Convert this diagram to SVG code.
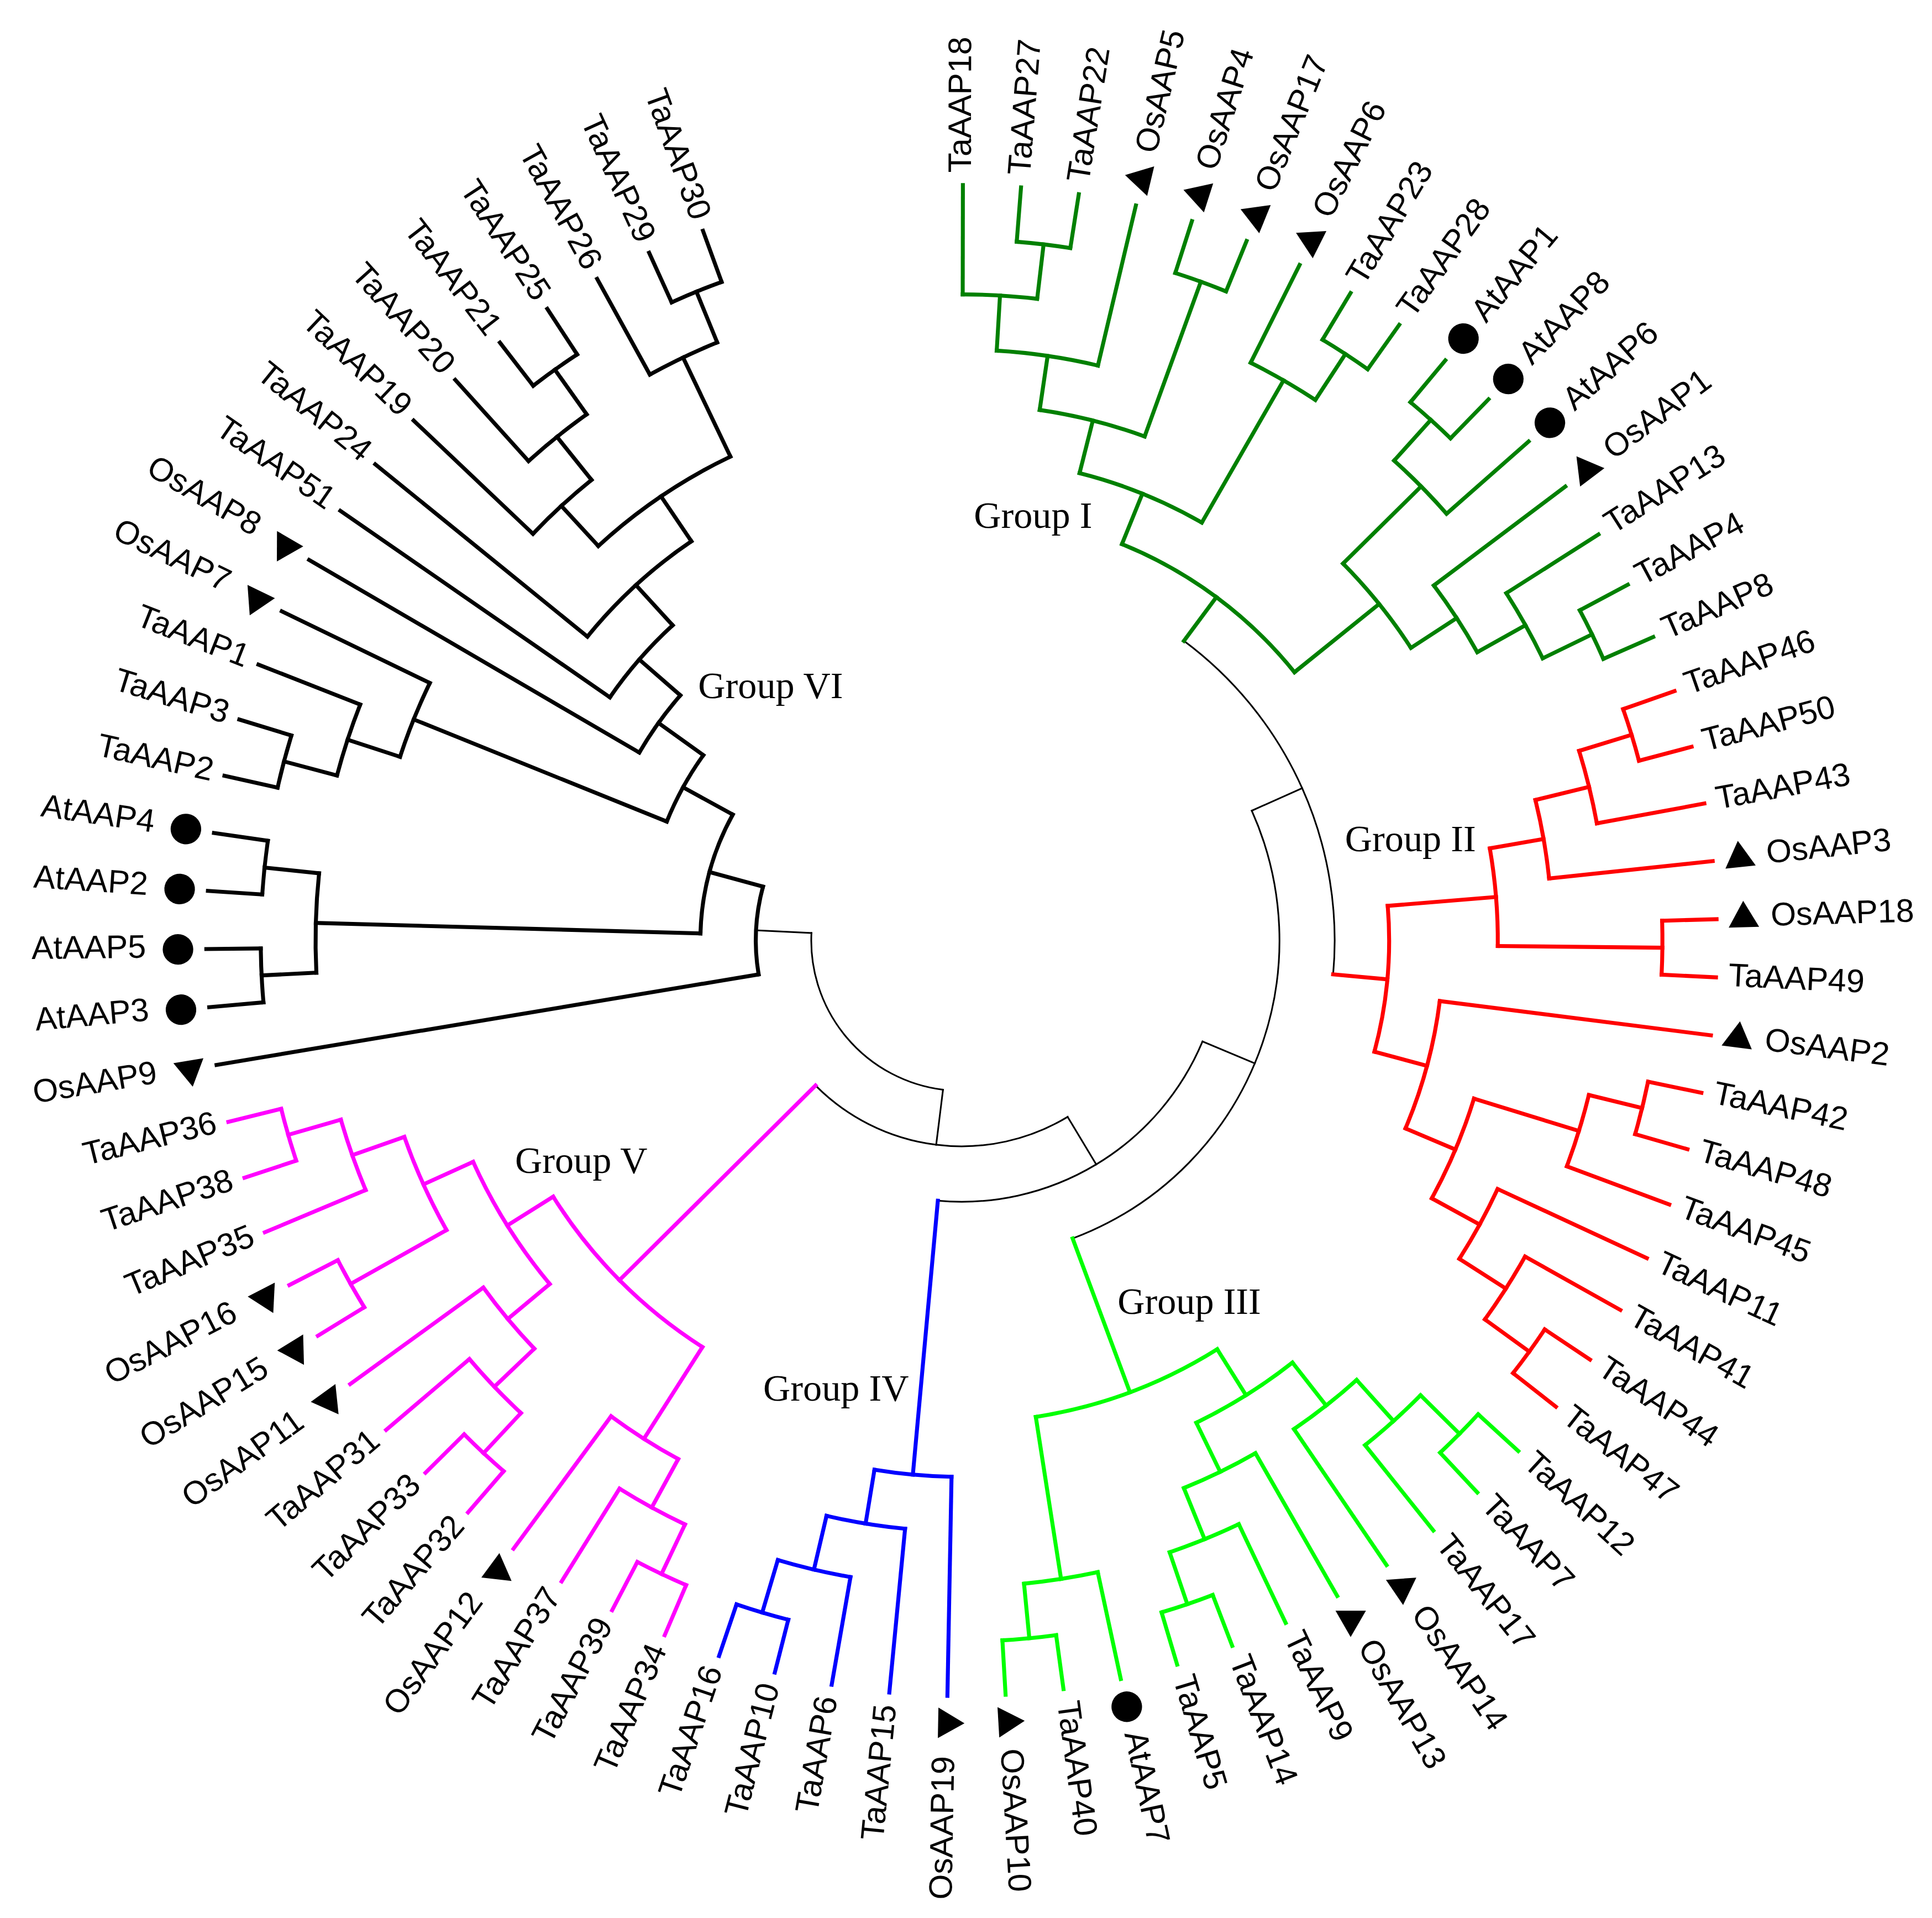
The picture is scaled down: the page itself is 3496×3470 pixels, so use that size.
<svg xmlns="http://www.w3.org/2000/svg" xmlns:xlink="http://www.w3.org/1999/xlink" width="3496" height="3470" viewBox="0 0 3496 3470">
<style>
.t{font-family:"Liberation Sans",Arial,Helvetica,sans-serif;font-size:26.5px;fill:#000}
.L{text-anchor:end}
.g{font-family:"Liberation Serif","Times New Roman",serif;font-size:30.6px;fill:#000}
#connectors line,#connectors circle{fill:none;stroke-linecap:square}
.thin{stroke:#000;stroke-width:1.35}
.k{stroke:#000;stroke-width:3.2}
.c1{stroke:#008000;stroke-width:3.2}
.c2{stroke:#ff0000;stroke-width:3.2}
.c3{stroke:#00ff00;stroke-width:3.2}
.c4{stroke:#0000ff;stroke-width:3.2}
.c5{stroke:#ff00ff;stroke-width:3.2}
</style>
<defs>
<polygon id="tri" points="0,-14.26 12.35,7.13 -12.35,7.13" fill="#000"/>
<circle id="dot" r="12.4" fill="#000"/>
</defs>
<rect width="3496" height="3470" fill="#fff"/>
<g transform="translate(1740,1701.6) scale(2.2296)">
<g id="connectors">
<g class="thin">
<circle r="122" transform="rotate(97.092)" stroke-dasharray="182.62 5000"/>
<circle r="167" transform="rotate(58.969)" stroke-dasharray="222.23 5000"/>
<circle r="212" transform="rotate(22.726)" stroke-dasharray="268.2 5000"/>
<circle r="258" transform="rotate(-24.104)" stroke-dasharray="421.75 5000"/>
<circle r="302.8" transform="rotate(-53.416)" stroke-dasharray="309.82 5000"/>
<line transform="rotate(97.092)" x1="122" x2="167"/>
<line transform="rotate(182.859)" x1="122" x2="167"/>
<line transform="rotate(58.969)" x1="167" x2="212"/>
<line transform="rotate(22.726)" x1="212" x2="258"/>
<line transform="rotate(-24.104)" x1="258" x2="302.8"/>
</g>
<g class="c1">
<line transform="rotate(-53.416)" x1="302.8" x2="347"/>
<line transform="rotate(-67.968)" x1="347" x2="391.2"/>
<line transform="rotate(-38.863)" x1="347" x2="435.2"/>
<line transform="rotate(-75.83)" x1="391.2" x2="435.2"/>
<line transform="rotate(-60.106)" x1="391.2" x2="524.3"/>
<line transform="rotate(-81.624)" x1="435.2" x2="479.5"/>
<line transform="rotate(-70.037)" x1="435.2" x2="568.8"/>
<line transform="rotate(-86.59)" x1="479.5" x2="524.3"/>
<line transform="rotate(-76.658)" x1="479.5" x2="613"/>
<line transform="rotate(-89.9)" x1="524.3" x2="613"/>
<line transform="rotate(-83.279)" x1="524.3" x2="568.8"/>
<line transform="rotate(-85.486)" x1="568.8" x2="613"/>
<line transform="rotate(-81.072)" x1="568.8" x2="613"/>
<line transform="rotate(-72.244)" x1="568.8" x2="613"/>
<line transform="rotate(-67.83)" x1="568.8" x2="613"/>
<line transform="rotate(-63.416)" x1="524.3" x2="613"/>
<line transform="rotate(-56.795)" x1="524.3" x2="568.8"/>
<line transform="rotate(-59.002)" x1="568.8" x2="613"/>
<line transform="rotate(-54.588)" x1="568.8" x2="613"/>
<line transform="rotate(-44.656)" x1="435.2" x2="524.3"/>
<line transform="rotate(-33.07)" x1="435.2" x2="479.5"/>
<line transform="rotate(-47.967)" x1="524.3" x2="568.8"/>
<line transform="rotate(-41.346)" x1="524.3" x2="613"/>
<line transform="rotate(-50.174)" x1="568.8" x2="613"/>
<line transform="rotate(-45.76)" x1="568.8" x2="613"/>
<line transform="rotate(-36.932)" x1="479.5" x2="613"/>
<line transform="rotate(-29.208)" x1="479.5" x2="524.3"/>
<line transform="rotate(-32.518)" x1="524.3" x2="613"/>
<line transform="rotate(-25.897)" x1="524.3" x2="568.8"/>
<line transform="rotate(-28.104)" x1="568.8" x2="613"/>
<line transform="rotate(-23.69)" x1="568.8" x2="613"/>
<circle r="347" transform="rotate(-67.968)" stroke-dasharray="176.26 5000"/>
<circle r="391.2" transform="rotate(-75.83)" stroke-dasharray="107.36 5000"/>
<circle r="435.2" transform="rotate(-81.624)" stroke-dasharray="88.01 5000"/>
<circle r="479.5" transform="rotate(-86.59)" stroke-dasharray="83.12 5000"/>
<circle r="524.3" transform="rotate(-89.9)" stroke-dasharray="60.59 5000"/>
<circle r="568.8" transform="rotate(-85.486)" stroke-dasharray="43.82 5000"/>
<circle r="568.8" transform="rotate(-72.244)" stroke-dasharray="43.82 5000"/>
<circle r="524.3" transform="rotate(-63.416)" stroke-dasharray="60.59 5000"/>
<circle r="568.8" transform="rotate(-59.002)" stroke-dasharray="43.82 5000"/>
<circle r="435.2" transform="rotate(-44.656)" stroke-dasharray="88.0 5000"/>
<circle r="524.3" transform="rotate(-47.967)" stroke-dasharray="60.59 5000"/>
<circle r="568.8" transform="rotate(-50.174)" stroke-dasharray="43.82 5000"/>
<circle r="479.5" transform="rotate(-36.932)" stroke-dasharray="64.64 5000"/>
<circle r="524.3" transform="rotate(-32.518)" stroke-dasharray="60.59 5000"/>
<circle r="568.8" transform="rotate(-28.104)" stroke-dasharray="43.82 5000"/>
</g>
<g class="c2">
<line transform="rotate(5.208)" x1="302.8" x2="347"/>
<line transform="rotate(-4.655)" x1="347" x2="435.2"/>
<line transform="rotate(15.071)" x1="347" x2="391.2"/>
<line transform="rotate(-9.897)" x1="435.2" x2="479.5"/>
<line transform="rotate(0.587)" x1="435.2" x2="568.8"/>
<line transform="rotate(-13.759)" x1="479.5" x2="524.3"/>
<line transform="rotate(-6.034)" x1="479.5" x2="613"/>
<line transform="rotate(-17.069)" x1="524.3" x2="568.8"/>
<line transform="rotate(-10.448)" x1="524.3" x2="613"/>
<line transform="rotate(-19.276)" x1="568.8" x2="613"/>
<line transform="rotate(-14.862)" x1="568.8" x2="613"/>
<line transform="rotate(-1.62)" x1="568.8" x2="613"/>
<line transform="rotate(2.794)" x1="568.8" x2="613"/>
<line transform="rotate(7.208)" x1="391.2" x2="613"/>
<line transform="rotate(22.934)" x1="391.2" x2="435.2"/>
<line transform="rotate(17.14)" x1="435.2" x2="524.3"/>
<line transform="rotate(28.727)" x1="435.2" x2="479.5"/>
<line transform="rotate(13.829)" x1="524.3" x2="568.8"/>
<line transform="rotate(20.45)" x1="524.3" x2="613"/>
<line transform="rotate(11.622)" x1="568.8" x2="613"/>
<line transform="rotate(16.036)" x1="568.8" x2="613"/>
<line transform="rotate(24.864)" x1="479.5" x2="613"/>
<line transform="rotate(32.589)" x1="479.5" x2="524.3"/>
<line transform="rotate(29.278)" x1="524.3" x2="613"/>
<line transform="rotate(35.899)" x1="524.3" x2="568.8"/>
<line transform="rotate(33.692)" x1="568.8" x2="613"/>
<line transform="rotate(38.106)" x1="568.8" x2="613"/>
<circle r="347" transform="rotate(-4.655)" stroke-dasharray="119.47 5000"/>
<circle r="435.2" transform="rotate(-9.897)" stroke-dasharray="79.63 5000"/>
<circle r="479.5" transform="rotate(-13.759)" stroke-dasharray="64.65 5000"/>
<circle r="524.3" transform="rotate(-17.069)" stroke-dasharray="60.59 5000"/>
<circle r="568.8" transform="rotate(-19.276)" stroke-dasharray="43.82 5000"/>
<circle r="568.8" transform="rotate(-1.62)" stroke-dasharray="43.82 5000"/>
<circle r="391.2" transform="rotate(7.208)" stroke-dasharray="107.37 5000"/>
<circle r="435.2" transform="rotate(17.14)" stroke-dasharray="88.01 5000"/>
<circle r="524.3" transform="rotate(13.829)" stroke-dasharray="60.59 5000"/>
<circle r="568.8" transform="rotate(11.622)" stroke-dasharray="43.82 5000"/>
<circle r="479.5" transform="rotate(24.864)" stroke-dasharray="64.65 5000"/>
<circle r="524.3" transform="rotate(29.278)" stroke-dasharray="60.59 5000"/>
<circle r="568.8" transform="rotate(33.692)" stroke-dasharray="43.82 5000"/>
</g>
<g class="c3">
<line transform="rotate(69.556)" x1="258" x2="391.2"/>
<line transform="rotate(57.969)" x1="391.2" x2="435.2"/>
<line transform="rotate(81.142)" x1="391.2" x2="524.3"/>
<line transform="rotate(51.9)" x1="435.2" x2="479.5"/>
<line transform="rotate(64.038)" x1="435.2" x2="479.5"/>
<line transform="rotate(48.038)" x1="479.5" x2="524.3"/>
<line transform="rotate(55.762)" x1="479.5" x2="613"/>
<line transform="rotate(44.727)" x1="524.3" x2="568.8"/>
<line transform="rotate(51.348)" x1="524.3" x2="613"/>
<line transform="rotate(42.52)" x1="568.8" x2="613"/>
<line transform="rotate(46.934)" x1="568.8" x2="613"/>
<line transform="rotate(60.176)" x1="479.5" x2="613"/>
<line transform="rotate(67.9)" x1="479.5" x2="524.3"/>
<line transform="rotate(64.59)" x1="524.3" x2="613"/>
<line transform="rotate(71.211)" x1="524.3" x2="568.8"/>
<line transform="rotate(69.004)" x1="568.8" x2="613"/>
<line transform="rotate(73.418)" x1="568.8" x2="613"/>
<line transform="rotate(77.832)" x1="524.3" x2="613"/>
<line transform="rotate(84.453)" x1="524.3" x2="568.8"/>
<line transform="rotate(82.246)" x1="568.8" x2="613"/>
<line transform="rotate(86.66)" x1="568.8" x2="613"/>
<circle r="391.2" transform="rotate(57.969)" stroke-dasharray="158.22 5000"/>
<circle r="435.2" transform="rotate(51.9)" stroke-dasharray="92.2 5000"/>
<circle r="479.5" transform="rotate(48.038)" stroke-dasharray="64.64 5000"/>
<circle r="524.3" transform="rotate(44.727)" stroke-dasharray="60.59 5000"/>
<circle r="568.8" transform="rotate(42.52)" stroke-dasharray="43.82 5000"/>
<circle r="479.5" transform="rotate(60.176)" stroke-dasharray="64.64 5000"/>
<circle r="524.3" transform="rotate(64.59)" stroke-dasharray="60.59 5000"/>
<circle r="568.8" transform="rotate(69.004)" stroke-dasharray="43.82 5000"/>
<circle r="524.3" transform="rotate(77.832)" stroke-dasharray="60.59 5000"/>
<circle r="568.8" transform="rotate(82.246)" stroke-dasharray="43.82 5000"/>
</g>
<g class="c4">
<line transform="rotate(95.212)" x1="212" x2="435.2"/>
<line transform="rotate(91.074)" x1="435.2" x2="613"/>
<line transform="rotate(99.35)" x1="435.2" x2="479.5"/>
<line transform="rotate(95.488)" x1="479.5" x2="613"/>
<line transform="rotate(103.212)" x1="479.5" x2="524.3"/>
<line transform="rotate(99.902)" x1="524.3" x2="613"/>
<line transform="rotate(106.523)" x1="524.3" x2="568.8"/>
<line transform="rotate(104.316)" x1="568.8" x2="613"/>
<line transform="rotate(108.73)" x1="568.8" x2="613"/>
<circle r="435.2" transform="rotate(91.074)" stroke-dasharray="62.86 5000"/>
<circle r="479.5" transform="rotate(95.488)" stroke-dasharray="64.64 5000"/>
<circle r="524.3" transform="rotate(99.902)" stroke-dasharray="60.59 5000"/>
<circle r="568.8" transform="rotate(104.316)" stroke-dasharray="43.82 5000"/>
</g>
<g class="c5">
<line transform="rotate(135.215)" x1="167" x2="391.2"/>
<line transform="rotate(122.524)" x1="391.2" x2="479.5"/>
<line transform="rotate(147.905)" x1="391.2" x2="435.2"/>
<line transform="rotate(118.662)" x1="479.5" x2="524.3"/>
<line transform="rotate(126.386)" x1="479.5" x2="613"/>
<line transform="rotate(115.351)" x1="524.3" x2="568.8"/>
<line transform="rotate(121.972)" x1="524.3" x2="613"/>
<line transform="rotate(113.144)" x1="568.8" x2="613"/>
<line transform="rotate(117.558)" x1="568.8" x2="613"/>
<line transform="rotate(140.18)" x1="435.2" x2="479.5"/>
<line transform="rotate(155.629)" x1="435.2" x2="479.5"/>
<line transform="rotate(136.318)" x1="479.5" x2="524.3"/>
<line transform="rotate(144.042)" x1="479.5" x2="613"/>
<line transform="rotate(133.007)" x1="524.3" x2="568.8"/>
<line transform="rotate(139.628)" x1="524.3" x2="613"/>
<line transform="rotate(130.8)" x1="568.8" x2="613"/>
<line transform="rotate(135.214)" x1="568.8" x2="613"/>
<line transform="rotate(150.663)" x1="479.5" x2="568.8"/>
<line transform="rotate(160.595)" x1="479.5" x2="524.3"/>
<line transform="rotate(148.456)" x1="568.8" x2="613"/>
<line transform="rotate(152.87)" x1="568.8" x2="613"/>
<line transform="rotate(157.284)" x1="524.3" x2="613"/>
<line transform="rotate(163.905)" x1="524.3" x2="568.8"/>
<line transform="rotate(161.698)" x1="568.8" x2="613"/>
<line transform="rotate(166.112)" x1="568.8" x2="613"/>
<circle r="391.2" transform="rotate(122.524)" stroke-dasharray="173.29 5000"/>
<circle r="479.5" transform="rotate(118.662)" stroke-dasharray="64.64 5000"/>
<circle r="524.3" transform="rotate(115.351)" stroke-dasharray="60.59 5000"/>
<circle r="568.8" transform="rotate(113.144)" stroke-dasharray="43.82 5000"/>
<circle r="435.2" transform="rotate(140.18)" stroke-dasharray="117.35 5000"/>
<circle r="479.5" transform="rotate(136.318)" stroke-dasharray="64.64 5000"/>
<circle r="524.3" transform="rotate(133.007)" stroke-dasharray="60.59 5000"/>
<circle r="568.8" transform="rotate(130.8)" stroke-dasharray="43.82 5000"/>
<circle r="479.5" transform="rotate(150.663)" stroke-dasharray="83.12 5000"/>
<circle r="568.8" transform="rotate(148.456)" stroke-dasharray="43.82 5000"/>
<circle r="524.3" transform="rotate(157.284)" stroke-dasharray="60.59 5000"/>
<circle r="568.8" transform="rotate(161.698)" stroke-dasharray="43.82 5000"/>
</g>
<g class="k">
<line transform="rotate(170.526)" x1="167" x2="613"/>
<line transform="rotate(195.192)" x1="167" x2="212"/>
<line transform="rotate(181.561)" x1="212" x2="524.3"/>
<line transform="rotate(208.822)" x1="212" x2="258"/>
<line transform="rotate(177.147)" x1="524.3" x2="568.8"/>
<line transform="rotate(185.975)" x1="524.3" x2="568.8"/>
<line transform="rotate(174.94)" x1="568.8" x2="613"/>
<line transform="rotate(179.354)" x1="568.8" x2="613"/>
<line transform="rotate(183.768)" x1="568.8" x2="613"/>
<line transform="rotate(188.182)" x1="568.8" x2="613"/>
<line transform="rotate(201.976)" x1="258" x2="479.5"/>
<line transform="rotate(215.667)" x1="258" x2="302.8"/>
<line transform="rotate(198.114)" x1="479.5" x2="524.3"/>
<line transform="rotate(205.838)" x1="479.5" x2="613"/>
<line transform="rotate(194.803)" x1="524.3" x2="568.8"/>
<line transform="rotate(201.424)" x1="524.3" x2="613"/>
<line transform="rotate(192.596)" x1="568.8" x2="613"/>
<line transform="rotate(197.01)" x1="568.8" x2="613"/>
<line transform="rotate(210.252)" x1="302.8" x2="613"/>
<line transform="rotate(221.081)" x1="302.8" x2="347"/>
<line transform="rotate(214.666)" x1="347" x2="613"/>
<line transform="rotate(227.495)" x1="347" x2="391.2"/>
<line transform="rotate(219.08)" x1="391.2" x2="613"/>
<line transform="rotate(235.909)" x1="391.2" x2="435.2"/>
<line transform="rotate(227.357)" x1="435.2" x2="479.5"/>
<line transform="rotate(244.461)" x1="435.2" x2="524.3"/>
<line transform="rotate(223.494)" x1="479.5" x2="613"/>
<line transform="rotate(231.219)" x1="479.5" x2="524.3"/>
<line transform="rotate(227.908)" x1="524.3" x2="613"/>
<line transform="rotate(234.529)" x1="524.3" x2="568.8"/>
<line transform="rotate(232.322)" x1="568.8" x2="613"/>
<line transform="rotate(236.736)" x1="568.8" x2="613"/>
<line transform="rotate(241.15)" x1="524.3" x2="613"/>
<line transform="rotate(247.771)" x1="524.3" x2="568.8"/>
<line transform="rotate(245.564)" x1="568.8" x2="613"/>
<line transform="rotate(249.978)" x1="568.8" x2="613"/>
<circle r="167" transform="rotate(170.526)" stroke-dasharray="71.89 5000"/>
<circle r="212" transform="rotate(181.561)" stroke-dasharray="100.87 5000"/>
<circle r="524.3" transform="rotate(177.147)" stroke-dasharray="80.78 5000"/>
<circle r="568.8" transform="rotate(174.94)" stroke-dasharray="43.82 5000"/>
<circle r="568.8" transform="rotate(183.768)" stroke-dasharray="43.82 5000"/>
<circle r="258" transform="rotate(201.976)" stroke-dasharray="61.65 5000"/>
<circle r="479.5" transform="rotate(198.114)" stroke-dasharray="64.64 5000"/>
<circle r="524.3" transform="rotate(194.803)" stroke-dasharray="60.59 5000"/>
<circle r="568.8" transform="rotate(192.596)" stroke-dasharray="43.82 5000"/>
<circle r="302.8" transform="rotate(210.252)" stroke-dasharray="57.23 5000"/>
<circle r="347" transform="rotate(214.666)" stroke-dasharray="77.70 5000"/>
<circle r="391.2" transform="rotate(219.08)" stroke-dasharray="114.90 5000"/>
<circle r="435.2" transform="rotate(227.357)" stroke-dasharray="129.92 5000"/>
<circle r="479.5" transform="rotate(223.494)" stroke-dasharray="64.65 5000"/>
<circle r="524.3" transform="rotate(227.908)" stroke-dasharray="60.59 5000"/>
<circle r="568.8" transform="rotate(232.322)" stroke-dasharray="43.82 5000"/>
<circle r="524.3" transform="rotate(241.15)" stroke-dasharray="60.59 5000"/>
<circle r="568.8" transform="rotate(245.564)" stroke-dasharray="43.82 5000"/>
</g>
</g>
<g id="leaves" class="t">
<g id="leaf-TaAAP18" transform="rotate(-89.9)"><text x="623" y="6.5">TaAAP18</text></g>
<g id="leaf-TaAAP27" transform="rotate(-85.486)"><text x="623" y="6.5">TaAAP27</text></g>
<g id="leaf-TaAAP22" transform="rotate(-81.072)"><text x="623" y="6.5">TaAAP22</text></g>
<g id="leaf-OsAAP5" transform="rotate(-76.658)"><use xlink:href="#tri" x="635"/><text x="657" y="6.5">OsAAP5</text></g>
<g id="leaf-OsAAP4" transform="rotate(-72.244)"><use xlink:href="#tri" x="635"/><text x="657" y="6.5">OsAAP4</text></g>
<g id="leaf-OsAAP17" transform="rotate(-67.83)"><use xlink:href="#tri" x="635"/><text x="657" y="6.5">OsAAP17</text></g>
<g id="leaf-OsAAP6" transform="rotate(-63.416)"><use xlink:href="#tri" x="635"/><text x="657" y="6.5">OsAAP6</text></g>
<g id="leaf-TaAAP23" transform="rotate(-59.002)"><text x="623" y="6.5">TaAAP23</text></g>
<g id="leaf-TaAAP28" transform="rotate(-54.588)"><text x="623" y="6.5">TaAAP28</text></g>
<g id="leaf-AtAAP1" transform="rotate(-50.174)"><use xlink:href="#dot" x="636"/><text x="657" y="6.5">AtAAP1</text></g>
<g id="leaf-AtAAP8" transform="rotate(-45.76)"><use xlink:href="#dot" x="636"/><text x="657" y="6.5">AtAAP8</text></g>
<g id="leaf-AtAAP6" transform="rotate(-41.346)"><use xlink:href="#dot" x="636"/><text x="657" y="6.5">AtAAP6</text></g>
<g id="leaf-OsAAP1" transform="rotate(-36.932)"><use xlink:href="#tri" x="635"/><text x="657" y="6.5">OsAAP1</text></g>
<g id="leaf-TaAAP13" transform="rotate(-32.518)"><text x="623" y="6.5">TaAAP13</text></g>
<g id="leaf-TaAAP4" transform="rotate(-28.104)"><text x="623" y="6.5">TaAAP4</text></g>
<g id="leaf-TaAAP8" transform="rotate(-23.69)"><text x="623" y="6.5">TaAAP8</text></g>
<g id="leaf-TaAAP46" transform="rotate(-19.276)"><text x="623" y="6.5">TaAAP46</text></g>
<g id="leaf-TaAAP50" transform="rotate(-14.862)"><text x="623" y="6.5">TaAAP50</text></g>
<g id="leaf-TaAAP43" transform="rotate(-10.448)"><text x="623" y="6.5">TaAAP43</text></g>
<g id="leaf-OsAAP3" transform="rotate(-6.034)"><use xlink:href="#tri" x="635"/><text x="657" y="6.5">OsAAP3</text></g>
<g id="leaf-OsAAP18" transform="rotate(-1.62)"><use xlink:href="#tri" x="635"/><text x="657" y="6.5">OsAAP18</text></g>
<g id="leaf-TaAAP49" transform="rotate(2.794)"><text x="623" y="6.5">TaAAP49</text></g>
<g id="leaf-OsAAP2" transform="rotate(7.208)"><use xlink:href="#tri" x="635"/><text x="657" y="6.5">OsAAP2</text></g>
<g id="leaf-TaAAP42" transform="rotate(11.622)"><text x="623" y="6.5">TaAAP42</text></g>
<g id="leaf-TaAAP48" transform="rotate(16.036)"><text x="623" y="6.5">TaAAP48</text></g>
<g id="leaf-TaAAP45" transform="rotate(20.45)"><text x="623" y="6.5">TaAAP45</text></g>
<g id="leaf-TaAAP11" transform="rotate(24.864)"><text x="623" y="6.5">TaAAP11</text></g>
<g id="leaf-TaAAP41" transform="rotate(29.278)"><text x="623" y="6.5">TaAAP41</text></g>
<g id="leaf-TaAAP44" transform="rotate(33.692)"><text x="623" y="6.5">TaAAP44</text></g>
<g id="leaf-TaAAP47" transform="rotate(38.106)"><text x="623" y="6.5">TaAAP47</text></g>
<g id="leaf-TaAAP12" transform="rotate(42.52)"><text x="623" y="6.5">TaAAP12</text></g>
<g id="leaf-TaAAP7" transform="rotate(46.934)"><text x="623" y="6.5">TaAAP7</text></g>
<g id="leaf-TaAAP17" transform="rotate(51.348)"><text x="623" y="6.5">TaAAP17</text></g>
<g id="leaf-OsAAP14" transform="rotate(55.762)"><use xlink:href="#tri" x="635"/><text x="657" y="6.5">OsAAP14</text></g>
<g id="leaf-OsAAP13" transform="rotate(60.176)"><use xlink:href="#tri" x="635"/><text x="657" y="6.5">OsAAP13</text></g>
<g id="leaf-TaAAP9" transform="rotate(64.59)"><text x="623" y="6.5">TaAAP9</text></g>
<g id="leaf-TaAAP14" transform="rotate(69.004)"><text x="623" y="6.5">TaAAP14</text></g>
<g id="leaf-TaAAP5" transform="rotate(73.418)"><text x="623" y="6.5">TaAAP5</text></g>
<g id="leaf-AtAAP7" transform="rotate(77.832)"><use xlink:href="#dot" x="636"/><text x="657" y="6.5">AtAAP7</text></g>
<g id="leaf-TaAAP40" transform="rotate(82.246)"><text x="623" y="6.5">TaAAP40</text></g>
<g id="leaf-OsAAP10" transform="rotate(86.66)"><use xlink:href="#tri" x="635"/><text x="657" y="6.5">OsAAP10</text></g>
<g id="leaf-OsAAP19" transform="rotate(91.074)"><use xlink:href="#tri" x="635"/><text class="L" x="662" y="6.5" transform="rotate(180 662 0)">OsAAP19</text></g>
<g id="leaf-TaAAP15" transform="rotate(95.488)"><text class="L" x="623" y="6.5" transform="rotate(180 623 0)">TaAAP15</text></g>
<g id="leaf-TaAAP6" transform="rotate(99.902)"><text class="L" x="623" y="6.5" transform="rotate(180 623 0)">TaAAP6</text></g>
<g id="leaf-TaAAP10" transform="rotate(104.316)"><text class="L" x="623" y="6.5" transform="rotate(180 623 0)">TaAAP10</text></g>
<g id="leaf-TaAAP16" transform="rotate(108.73)"><text class="L" x="623" y="6.5" transform="rotate(180 623 0)">TaAAP16</text></g>
<g id="leaf-TaAAP34" transform="rotate(113.144)"><text class="L" x="623" y="6.5" transform="rotate(180 623 0)">TaAAP34</text></g>
<g id="leaf-TaAAP39" transform="rotate(117.558)"><text class="L" x="623" y="6.5" transform="rotate(180 623 0)">TaAAP39</text></g>
<g id="leaf-TaAAP37" transform="rotate(121.972)"><text class="L" x="623" y="6.5" transform="rotate(180 623 0)">TaAAP37</text></g>
<g id="leaf-OsAAP12" transform="rotate(126.386)"><use xlink:href="#tri" x="635"/><text class="L" x="662" y="6.5" transform="rotate(180 662 0)">OsAAP12</text></g>
<g id="leaf-TaAAP32" transform="rotate(130.8)"><text class="L" x="623" y="6.5" transform="rotate(180 623 0)">TaAAP32</text></g>
<g id="leaf-TaAAP33" transform="rotate(135.214)"><text class="L" x="623" y="6.5" transform="rotate(180 623 0)">TaAAP33</text></g>
<g id="leaf-TaAAP31" transform="rotate(139.628)"><text class="L" x="623" y="6.5" transform="rotate(180 623 0)">TaAAP31</text></g>
<g id="leaf-OsAAP11" transform="rotate(144.042)"><use xlink:href="#tri" x="635"/><text class="L" x="662" y="6.5" transform="rotate(180 662 0)">OsAAP11</text></g>
<g id="leaf-OsAAP15" transform="rotate(148.456)"><use xlink:href="#tri" x="635"/><text class="L" x="662" y="6.5" transform="rotate(180 662 0)">OsAAP15</text></g>
<g id="leaf-OsAAP16" transform="rotate(152.87)"><use xlink:href="#tri" x="635"/><text class="L" x="662" y="6.5" transform="rotate(180 662 0)">OsAAP16</text></g>
<g id="leaf-TaAAP35" transform="rotate(157.284)"><text class="L" x="623" y="6.5" transform="rotate(180 623 0)">TaAAP35</text></g>
<g id="leaf-TaAAP38" transform="rotate(161.698)"><text class="L" x="623" y="6.5" transform="rotate(180 623 0)">TaAAP38</text></g>
<g id="leaf-TaAAP36" transform="rotate(166.112)"><text class="L" x="623" y="6.5" transform="rotate(180 623 0)">TaAAP36</text></g>
<g id="leaf-OsAAP9" transform="rotate(170.526)"><use xlink:href="#tri" x="635"/><text class="L" x="662" y="6.5" transform="rotate(180 662 0)">OsAAP9</text></g>
<g id="leaf-AtAAP3" transform="rotate(174.94)"><use xlink:href="#dot" x="636"/><text class="L" x="662" y="6.5" transform="rotate(180 662 0)">AtAAP3</text></g>
<g id="leaf-AtAAP5" transform="rotate(179.354)"><use xlink:href="#dot" x="636"/><text class="L" x="662" y="6.5" transform="rotate(180 662 0)">AtAAP5</text></g>
<g id="leaf-AtAAP2" transform="rotate(183.768)"><use xlink:href="#dot" x="636"/><text class="L" x="662" y="6.5" transform="rotate(180 662 0)">AtAAP2</text></g>
<g id="leaf-AtAAP4" transform="rotate(188.182)"><use xlink:href="#dot" x="636"/><text class="L" x="662" y="6.5" transform="rotate(180 662 0)">AtAAP4</text></g>
<g id="leaf-TaAAP2" transform="rotate(192.596)"><text class="L" x="623" y="6.5" transform="rotate(180 623 0)">TaAAP2</text></g>
<g id="leaf-TaAAP3" transform="rotate(197.01)"><text class="L" x="623" y="6.5" transform="rotate(180 623 0)">TaAAP3</text></g>
<g id="leaf-TaAAP1" transform="rotate(201.424)"><text class="L" x="623" y="6.5" transform="rotate(180 623 0)">TaAAP1</text></g>
<g id="leaf-OsAAP7" transform="rotate(205.838)"><use xlink:href="#tri" x="635"/><text class="L" x="662" y="6.5" transform="rotate(180 662 0)">OsAAP7</text></g>
<g id="leaf-OsAAP8" transform="rotate(210.252)"><use xlink:href="#tri" x="635"/><text class="L" x="662" y="6.5" transform="rotate(180 662 0)">OsAAP8</text></g>
<g id="leaf-TaAAP51" transform="rotate(214.666)"><text class="L" x="623" y="6.5" transform="rotate(180 623 0)">TaAAP51</text></g>
<g id="leaf-TaAAP24" transform="rotate(219.08)"><text class="L" x="623" y="6.5" transform="rotate(180 623 0)">TaAAP24</text></g>
<g id="leaf-TaAAP19" transform="rotate(223.494)"><text class="L" x="623" y="6.5" transform="rotate(180 623 0)">TaAAP19</text></g>
<g id="leaf-TaAAP20" transform="rotate(227.908)"><text class="L" x="623" y="6.5" transform="rotate(180 623 0)">TaAAP20</text></g>
<g id="leaf-TaAAP21" transform="rotate(232.322)"><text class="L" x="623" y="6.5" transform="rotate(180 623 0)">TaAAP21</text></g>
<g id="leaf-TaAAP25" transform="rotate(236.736)"><text class="L" x="623" y="6.5" transform="rotate(180 623 0)">TaAAP25</text></g>
<g id="leaf-TaAAP26" transform="rotate(241.15)"><text class="L" x="623" y="6.5" transform="rotate(180 623 0)">TaAAP26</text></g>
<g id="leaf-TaAAP29" transform="rotate(245.564)"><text class="L" x="623" y="6.5" transform="rotate(180 623 0)">TaAAP29</text></g>
<g id="leaf-TaAAP30" transform="rotate(249.978)"><text class="L" x="623" y="6.5" transform="rotate(180 623 0)">TaAAP30</text></g>
</g>
<g id="group-labels" class="g">
<text id="label-group1" x="10" y="-334.9">Group I</text>
<text id="label-group2" x="311.2" y="-72.4">Group II</text>
<text id="label-group3" x="126.6" y="303">Group III</text>
<text id="label-group4" x="-161" y="373.3">Group IV</text>
<text id="label-group5" x="-362.4" y="188.5">Group V</text>
<text id="label-group6" x="-213.8" y="-196.6">Group VI</text>
</g>
</g>
</svg>
